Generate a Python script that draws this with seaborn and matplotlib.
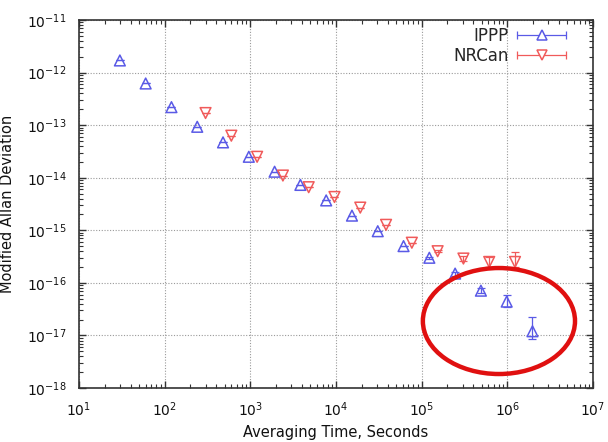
import matplotlib
matplotlib.use("Agg")
import matplotlib.pyplot as plt
from matplotlib.lines import Line2D
from matplotlib.legend_handler import HandlerBase
from matplotlib.patches import Ellipse
from matplotlib.ticker import LogLocator, NullFormatter
import seaborn as sns
import pandas as pd

# Averaging times (s) and modified Allan deviations for the two solutions
ippp_tau = [30, 60, 120, 240, 480, 960, 1920, 3840, 7680, 15360, 30720,
            61440, 122880, 245760, 491520, 983040, 1966080]
ippp_adev = [1.7e-12, 6.2e-13, 2.2e-13, 9.3e-14, 4.7e-14, 2.5e-14, 1.3e-14,
             7.3e-15, 3.7e-15, 1.9e-15, 9.6e-16, 5.0e-16, 3.0e-16, 1.5e-16,
             7.1e-17, 4.4e-17, 1.2e-17]
ippp_err_lo = [0, 0, 0, 0, 0, 0, 0, 0, 0, 0, 0, 0, 1e-17, 1.2e-17, 6e-18,
               1.0e-17, 3.5e-18]
ippp_err_hi = [0, 0, 0, 0, 0, 0, 0, 0, 0, 0, 0, 0, 1e-17, 1.2e-17, 8e-18,
               1.5e-17, 1.0e-17]

nrcan_tau = [300, 600, 1200, 2400, 4800, 9600, 19200, 38400, 76800, 153600,
             307200, 614400, 1228800]
nrcan_adev = [1.7e-13, 6.3e-14, 2.5e-14, 1.1e-14, 6.6e-15, 4.3e-15, 2.7e-15,
              1.27e-15, 5.8e-16, 4.0e-16, 2.9e-16, 2.5e-16, 2.5e-16]
nrcan_err_lo = [0, 0, 0, 0, 0, 0, 0, 0, 0, 2e-17, 3e-17, 5e-17, 5e-17]
nrcan_err_hi = [0, 0, 0, 0, 0, 0, 0, 0, 0, 2e-17, 4e-17, 6e-17, 1.4e-16]

series_names = ["IPPP", "NRCan"]
series_colors = {"IPPP": "#5a5ae6", "NRCan": "#f05a5a"}
series_markers = {"IPPP": "^", "NRCan": "v"}

df = pd.concat([
    pd.DataFrame({"tau": ippp_tau, "adev": ippp_adev, "lo": ippp_err_lo,
                  "hi": ippp_err_hi, "series": "IPPP"}),
    pd.DataFrame({"tau": nrcan_tau, "adev": nrcan_adev, "lo": nrcan_err_lo,
                  "hi": nrcan_err_hi, "series": "NRCan"}),
])

sns.set_theme(style="ticks")
plt.rcParams["font.family"] = ["DejaVu Sans"]
plt.rcParams["mathtext.fontset"] = "dejavusans"

fig = plt.figure(figsize=(6.08, 4.42), dpi=100)
ax = fig.add_axes([79 / 608, 54 / 442, 514 / 608, 368 / 442])

for name in series_names:
    sub = df[df["series"] == name]
    col = series_colors[name]
    ax.errorbar(sub["tau"], sub["adev"], yerr=[sub["lo"], sub["hi"]],
                fmt="none", ecolor=col, elinewidth=0.9, capsize=3,
                capthick=0.9, zorder=2)
    sns.scatterplot(data=sub, x="tau", y="adev", marker=series_markers[name],
                    s=60, facecolor="none", edgecolor=col, linewidth=1.1,
                    ax=ax, zorder=3, legend=False)

ax.set_xscale("log")
ax.set_yscale("log")
ax.set_xlim(1e1, 1e7)
ax.set_ylim(1e-18, 1e-11)

ax.xaxis.set_major_locator(LogLocator(base=10, numticks=20))
ax.yaxis.set_major_locator(LogLocator(base=10, numticks=20))
ax.xaxis.set_minor_locator(LogLocator(base=10, subs=range(2, 10), numticks=20))
ax.yaxis.set_minor_locator(LogLocator(base=10, subs=range(2, 10), numticks=20))
ax.xaxis.set_minor_formatter(NullFormatter())
ax.yaxis.set_minor_formatter(NullFormatter())

ax.tick_params(which="both", direction="in", top=True, right=True,
               color="#333333", labelsize=10, labelcolor="#111111")
ax.tick_params(which="major", length=5, width=1.0)
ax.tick_params(which="minor", length=3, width=0.8)
ax.tick_params(axis="x", which="major", pad=9)
ax.tick_params(axis="y", which="major", pad=9)
for sp in ax.spines.values():
    sp.set_color("#333333")
    sp.set_linewidth(1.2)

ax.grid(which="major", linestyle=(0, (1, 1.5)), color="#9a9a9a", linewidth=0.8)
ax.set_axisbelow(True)

ax.set_xlabel("Averaging Time, Seconds", fontsize=10.5, color="#111111")
ax.set_ylabel("Modified Allan Deviation", fontsize=10.5, color="#111111")
ax.xaxis.set_label_coords(0.5, -0.1)
ax.yaxis.set_label_coords(-0.124, 0.5)

# Highlight around the long-term points
ax.add_patch(Ellipse((0.817, 0.182), 0.296, 0.288, transform=ax.transAxes,
                     fill=False, edgecolor="#e01010", linewidth=3.2, zorder=4))


class ErrorBarKey(HandlerBase):
    """Legend key: horizontal line with end caps and the series marker."""

    def create_artists(self, legend, orig_handle, xdescent, ydescent,
                       width, height, fontsize, trans):
        col = orig_handle.get_color()
        y = height / 2 - ydescent
        x0, x1 = -xdescent, -xdescent + width
        line = Line2D([x0, x1], [y, y], color=col, lw=0.9)
        caps = Line2D([x0, x1], [y, y], ls="none", marker="|", ms=6,
                      mew=0.9, color=col)
        mk = Line2D([(x0 + x1) / 2], [y], ls="none",
                    marker=orig_handle.get_marker(), ms=7, mfc="white",
                    mec=col, mew=1.1)
        for a in (line, caps, mk):
            a.set_transform(trans)
        return [line, caps, mk]


handles = [Line2D([], [], color=series_colors[n], marker=series_markers[n])
           for n in series_names]
ax.legend(handles, series_names, loc="upper right", frameon=False,
          markerfirst=False, fontsize=12, handlelength=2.9,
          handletextpad=0.55, labelspacing=0.12, borderaxespad=0.0,
          bbox_to_anchor=(0.96, 1.0),
          handler_map={Line2D: ErrorBarKey()})

fig.savefig("out.png", dpi=100)
